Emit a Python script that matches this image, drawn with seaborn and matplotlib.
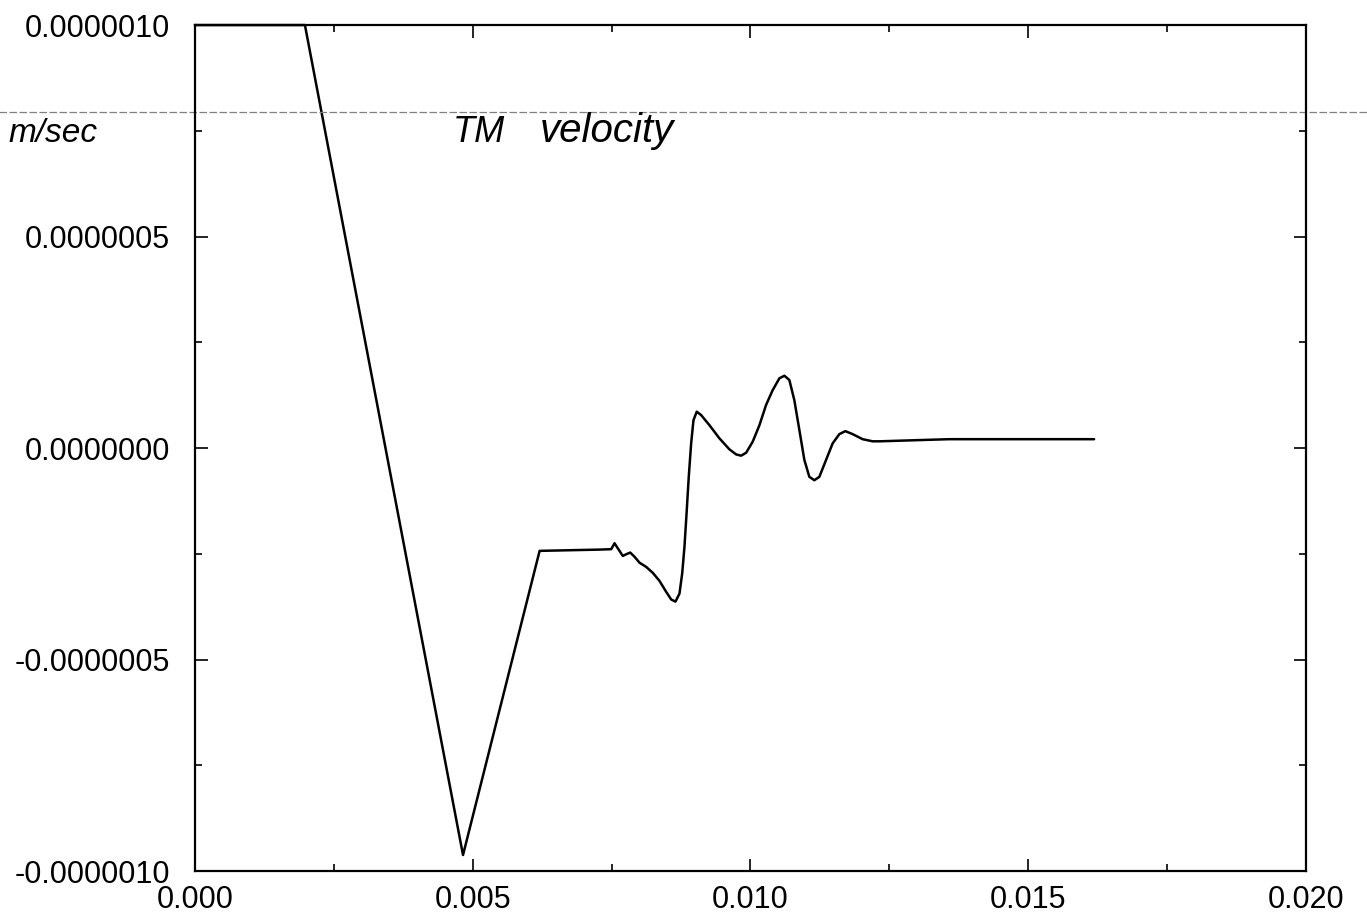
import matplotlib.pyplot as plt
import matplotlib.ticker as mticker
import pandas as pd
import seaborn as sns

# Time (ms) and TM velocity (um/sec)
time_ms = [0.0, 1.98, 4.826, 6.205, 7.284, 7.494, 7.554, 7.613, 7.703, 7.764,
           7.836, 7.914, 8.004, 8.124, 8.243, 8.363, 8.484, 8.574, 8.651,
           8.723, 8.772, 8.813, 8.854, 8.890, 8.933, 8.975, 9.034, 9.113,
           9.263, 9.442, 9.622, 9.743, 9.833, 9.923, 10.041, 10.162, 10.282,
           10.401, 10.522, 10.612, 10.701, 10.791, 10.881, 10.971, 11.061,
           11.151, 11.241, 11.362, 11.480, 11.601, 11.709, 11.840, 12.020,
           12.200, 12.320, 13.579, 16.187]
vel_um = [1.0, 1.0, -0.962, -0.243, -0.240, -0.239, -0.225, -0.237, -0.255,
          -0.251, -0.247, -0.257, -0.271, -0.281, -0.295, -0.314, -0.340,
          -0.358, -0.363, -0.344, -0.296, -0.233, -0.147, -0.068, 0.011,
          0.066, 0.086, 0.078, 0.054, 0.023, -0.003, -0.015, -0.018, -0.011,
          0.015, 0.054, 0.102, 0.137, 0.165, 0.171, 0.161, 0.113, 0.043,
          -0.028, -0.068, -0.076, -0.068, -0.028, 0.011, 0.033, 0.040, 0.033,
          0.021, 0.016, 0.016, 0.021, 0.021]

x_ticks = [0.0, 0.005, 0.010, 0.015, 0.020]
y_ticks = [-1.0e-6, -0.5e-6, 0.0, 0.5e-6, 1.0e-6]

df = pd.DataFrame({"time": [t * 1e-3 for t in time_ms],
                   "velocity": [v * 1e-6 for v in vel_um]})

sns.set_style("ticks")
plt.rcParams["font.family"] = ["Liberation Sans", "DejaVu Sans"]
plt.rcParams["text.color"] = "black"
plt.rcParams["xtick.color"] = "black"
plt.rcParams["ytick.color"] = "black"
plt.rcParams["axes.edgecolor"] = "black"

fig = plt.figure(figsize=(13.67, 9.15), dpi=100)
ax = fig.add_axes([0.1426, 0.048, 0.8127, 0.9246])

sns.lineplot(data=df, x="time", y="velocity", color="black", linewidth=1.8,
             sort=False, ax=ax, clip_on=False)

ax.set_xlim(0, 0.02)
ax.set_ylim(-1e-6, 1e-6)
ax.set_xticks(x_ticks)
ax.set_yticks(y_ticks)
ax.xaxis.set_minor_locator(mticker.MultipleLocator(0.0025))
ax.yaxis.set_minor_locator(mticker.MultipleLocator(0.25e-6))
ax.xaxis.set_major_formatter(mticker.FormatStrFormatter("%.3f"))
ax.yaxis.set_major_formatter(mticker.FormatStrFormatter("%.7f"))
ax.tick_params(which="both", direction="in", top=True, right=True, width=1.2)
ax.tick_params(which="major", length=9, labelsize=22)
ax.tick_params(which="minor", length=5)
ax.tick_params(axis="y", pad=18)
ax.tick_params(axis="x", pad=10)
ax.set_xlabel("")
ax.set_ylabel("")
for spine in ax.spines.values():
    spine.set_linewidth(1.6)
    spine.set_visible(True)

# scan fold line and handwritten notes
ax.axhline(0.795e-6, xmin=-0.2, xmax=1.06, color="gray", linewidth=0.9,
           linestyle=(0, (6, 2)), clip_on=False)
fig.text(0.006, 0.845, "m/sec", fontsize=24, style="italic")
fig.text(0.331, 0.845, "TM", fontsize=26, style="italic")
fig.text(0.395, 0.845, "velocity", fontsize=29, style="italic")

plt.savefig("out.png")
